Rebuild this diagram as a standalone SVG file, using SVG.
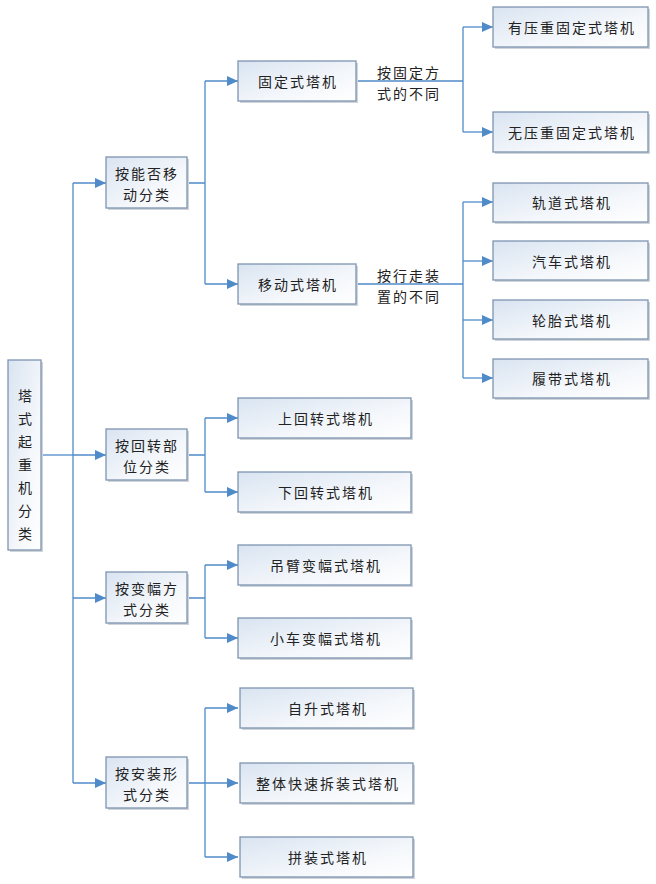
<svg xmlns="http://www.w3.org/2000/svg" width="656" height="884" viewBox="0 0 656 884">
<defs>
<linearGradient id="g" x1="0" y1="0" x2="1" y2="1">
<stop offset="0" stop-color="#d9e4f1"/>
<stop offset="0.6" stop-color="#f4f7fb"/>
<stop offset="1" stop-color="#ffffff"/>
</linearGradient>
<marker id="arr" markerUnits="userSpaceOnUse" markerWidth="12" markerHeight="10" refX="11" refY="5" orient="auto">
<path d="M0,0 L11,5 L0,10 z" fill="#4f8bc9"/>
</marker>
<style>
.b{fill:url(#g);stroke:#7d94b0;stroke-width:1.3}
.s{fill:#cfd4db}
.t{font-family:"Noto Sans CJK SC","Noto Sans",sans-serif;font-size:14px;fill:#222;letter-spacing:2px;text-anchor:middle;dominant-baseline:central}
.c{fill:none;stroke:#4f8bc9;stroke-width:1.3}
.a{marker-end:url(#arr)}
</style>
</defs>
<rect width="656" height="884" fill="#ffffff"/>
<g id="connectors">
<path class="c" d="M41,455 H73"/>
<path class="c" d="M73,183 V783"/>
<path class="c a" d="M73,183 H106"/>
<path class="c a" d="M73,455 H106"/>
<path class="c a" d="M73,598 H106"/>
<path class="c a" d="M73,783 H106"/>
<path class="c" d="M187,183 H205 M205,81 V284"/>
<path class="c a" d="M205,81 H238"/>
<path class="c a" d="M205,284 H238"/>
<path class="c" d="M356,81 H463 M463,27 V132"/>
<path class="c a" d="M463,27 H493"/>
<path class="c a" d="M463,132 H493"/>
<path class="c" d="M356,284 H463 M463,202 V378"/>
<path class="c a" d="M463,202 H493"/>
<path class="c a" d="M463,261 H493"/>
<path class="c a" d="M463,320 H493"/>
<path class="c a" d="M463,378 H493"/>
<path class="c" d="M187,455 H205 M205,418 V492"/>
<path class="c a" d="M205,418 H238"/>
<path class="c a" d="M205,492 H238"/>
<path class="c" d="M187,598 H205 M205,565 V638"/>
<path class="c a" d="M205,565 H238"/>
<path class="c a" d="M205,638 H238"/>
<path class="c" d="M187,783 H205 M205,708 V857"/>
<path class="c a" d="M205,708 H238"/>
<path class="c a" d="M205,783 H238"/>
<path class="c a" d="M205,857 H238"/>
</g>
<g id="edge-labels">
<text class="t" x="409" y="72">按固定方</text>
<text class="t" x="409" y="93">式的不同</text>
<text class="t" x="409" y="275">按行走装</text>
<text class="t" x="409" y="296">置的不同</text>
</g>
<g id="root">
<rect class="s" x="10" y="362" width="33" height="190"/>
<rect class="b" x="8" y="360" width="33" height="190"/>
<text class="t" style="letter-spacing:0" x="25" y="395">塔</text>
<text class="t" style="letter-spacing:0" x="25" y="418">式</text>
<text class="t" style="letter-spacing:0" x="25" y="441">起</text>
<text class="t" style="letter-spacing:0" x="25" y="464">重</text>
<text class="t" style="letter-spacing:0" x="25" y="487">机</text>
<text class="t" style="letter-spacing:0" x="25" y="510">分</text>
<text class="t" style="letter-spacing:0" x="25" y="533">类</text>
</g>
<g id="n-move">
<rect class="s" x="108" y="159" width="81" height="51"/>
<rect class="b" x="106" y="157" width="81" height="51"/>
<text class="t" x="147" y="173">按能否移</text>
<text class="t" x="147" y="194">动分类</text>
</g>
<g id="n-rotate">
<rect class="s" x="108" y="431" width="81" height="51"/>
<rect class="b" x="106" y="429" width="81" height="51"/>
<text class="t" x="147" y="445">按回转部</text>
<text class="t" x="147" y="466">位分类</text>
</g>
<g id="n-luff">
<rect class="s" x="108" y="574" width="81" height="51"/>
<rect class="b" x="106" y="572" width="81" height="51"/>
<text class="t" x="147" y="588">按变幅方</text>
<text class="t" x="147" y="609">式分类</text>
</g>
<g id="n-install">
<rect class="s" x="108" y="759" width="81" height="51"/>
<rect class="b" x="106" y="757" width="81" height="51"/>
<text class="t" x="147" y="773">按安装形</text>
<text class="t" x="147" y="794">式分类</text>
</g>
<g id="n-fixed">
<rect class="s" x="240" y="63" width="118" height="40"/>
<rect class="b" x="238" y="61" width="118" height="40"/>
<text class="t" x="298" y="81">固定式塔机</text>
</g>
<g id="n-mobile">
<rect class="s" x="240" y="266" width="118" height="40"/>
<rect class="b" x="238" y="264" width="118" height="40"/>
<text class="t" x="298" y="284">移动式塔机</text>
</g>
<g id="n-press">
<rect class="s" x="495" y="9" width="155" height="40"/>
<rect class="b" x="493" y="7" width="155" height="40"/>
<text class="t" x="572" y="27">有压重固定式塔机</text>
</g>
<g id="n-nopress">
<rect class="s" x="495" y="114" width="155" height="40"/>
<rect class="b" x="493" y="112" width="155" height="40"/>
<text class="t" x="572" y="132">无压重固定式塔机</text>
</g>
<g id="n-rail">
<rect class="s" x="495" y="185" width="155" height="39"/>
<rect class="b" x="493" y="183" width="155" height="39"/>
<text class="t" x="572" y="202">轨道式塔机</text>
</g>
<g id="n-truck">
<rect class="s" x="495" y="243" width="155" height="39"/>
<rect class="b" x="493" y="241" width="155" height="39"/>
<text class="t" x="572" y="261">汽车式塔机</text>
</g>
<g id="n-tyre">
<rect class="s" x="495" y="302" width="155" height="39"/>
<rect class="b" x="493" y="300" width="155" height="39"/>
<text class="t" x="572" y="320">轮胎式塔机</text>
</g>
<g id="n-crawler">
<rect class="s" x="495" y="361" width="155" height="39"/>
<rect class="b" x="493" y="359" width="155" height="39"/>
<text class="t" x="572" y="378">履带式塔机</text>
</g>
<g id="n-upper">
<rect class="s" x="240" y="400" width="173" height="40"/>
<rect class="b" x="238" y="398" width="173" height="40"/>
<text class="t" x="326" y="418">上回转式塔机</text>
</g>
<g id="n-lower">
<rect class="s" x="240" y="474" width="173" height="40"/>
<rect class="b" x="238" y="472" width="173" height="40"/>
<text class="t" x="326" y="492">下回转式塔机</text>
</g>
<g id="n-boom">
<rect class="s" x="240" y="547" width="173" height="40"/>
<rect class="b" x="238" y="545" width="173" height="40"/>
<text class="t" x="326" y="565">吊臂变幅式塔机</text>
</g>
<g id="n-trolley">
<rect class="s" x="240" y="620" width="173" height="40"/>
<rect class="b" x="238" y="618" width="173" height="40"/>
<text class="t" x="326" y="638">小车变幅式塔机</text>
</g>
<g id="n-self">
<rect class="s" x="242" y="690" width="173" height="40"/>
<rect class="b" x="240" y="688" width="173" height="40"/>
<text class="t" x="328" y="708">自升式塔机</text>
</g>
<g id="n-quick">
<rect class="s" x="242" y="765" width="173" height="40"/>
<rect class="b" x="240" y="763" width="173" height="40"/>
<text class="t" x="328" y="783">整体快速拆装式塔机</text>
</g>
<g id="n-assemble">
<rect class="s" x="242" y="839" width="173" height="40"/>
<rect class="b" x="240" y="837" width="173" height="40"/>
<text class="t" x="328" y="857">拼装式塔机</text>
</g>
</svg>
